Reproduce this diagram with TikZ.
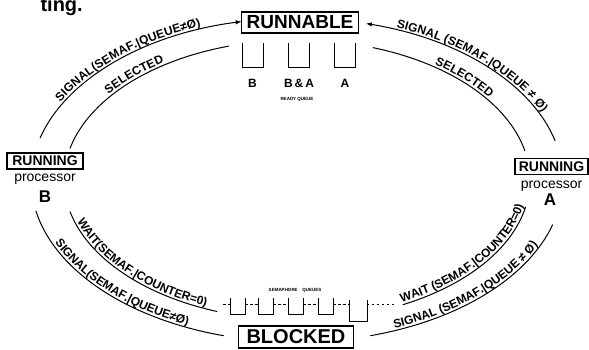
\documentclass[tikz,border=0pt]{standalone}
\usepackage{fontspec}
\setmainfont{Liberation Sans}
\usetikzlibrary{arrows.meta,decorations.text}

\newcommand{\lblfont}{\fontsize{12}{12}\selectfont\bfseries}

\begin{document}
\begin{tikzpicture}[
  x=1pt, y=1pt,
  state/.style={draw, line width=1.1pt, inner sep=1pt},
  plain/.style={inner sep=0pt},
  conn/.style={line width=1pt},
  arr/.style={conn, -{Latex[length=6pt,width=4.5pt]}},
  rarr/.style={conn, {Latex[length=6pt,width=4.5pt]}-},
  along/.style={postaction={decorate, decoration={text along path,
      text={|\lblfont|#1}, text align=center, raise=2.5pt}}}
]
\useasboundingbox (0,0) rectangle (589,350);
\coordinate (ctr) at (297,170);

\node[anchor=base west, font=\fontsize{20}{20}\selectfont\bfseries] (ting) at (37,338) {ting.};

% states
\node[state, minimum width=117pt, minimum height=21pt, font=\fontsize{19}{19}\selectfont\bfseries] (runnable) at (300,327.5) {RUNNABLE};
\node[state, minimum width=115pt, minimum height=22pt, font=\fontsize{20}{20}\selectfont\bfseries] (blocked) at (296,13) {BLOCKED};
\node[state, minimum width=76pt, minimum height=16pt, font=\fontsize{14}{14}\selectfont\bfseries] (runB) at (45,189) {RUNNING};
\node[state, minimum width=73pt, minimum height=16pt, font=\fontsize{14}{14}\selectfont\bfseries] (runA) at (551.5,183.5) {RUNNING};
\node[plain, font=\fontsize{14}{14}\selectfont] (procB) at (45,171) {processor};
\node[plain, font=\fontsize{14}{14}\selectfont] (procA) at (551.5,164) {processor};
\node[plain, font=\fontsize{17}{17}\selectfont\bfseries] (nameB) at (45,153) {B};
\node[plain, font=\fontsize{17}{17}\selectfont\bfseries] (nameA) at (550,150) {A};

% ready queue
\foreach \x/\who [count=\i] in {252.5/B, 299/B\,\&\,A, 345/A} {
  \draw[conn] (\x-10.5,307) -- (\x-10.5,282) -- (\x+10.5,282) -- (\x+10.5,307);
  \node[plain, font=\fontsize{12}{12}\selectfont\bfseries] (ready\i) at (\x,267) {\who};
}
\node[plain, font=\fontsize{4.5}{5}\selectfont\bfseries] (readyq) at (297,251) {READY QUEUE};

% semaphore queues
\foreach \x in {230, 258, 288, 318} {
  \draw[conn] (\x,52) -- (\x,35) -- (\x+15,35) -- (\x+15,52);
}
\draw[conn] (349,50) -- (349,28) -- (367,28) -- (367,50);
\foreach \a/\b in {223/230, 245/258, 273/288, 303/318, 333/349} {
  \draw[conn, dash pattern=on 3pt off 2pt] (\a,45) -- (\b,45);
}
\draw[conn, dash pattern=on 2pt off 3pt] (367,45) -- (395,45);
\node[plain, font=\fontsize{4.5}{5}\selectfont\bfseries] (semq) at (295,60) {SEMAPHORE\quad QUEUES};

% transitions, left half
\coordinate (bsig) at ([shift={(ctr)}]165:266pt and 162pt);
\coordinate (bsel) at ([shift={(ctr)}]167:233pt and 140pt);
\coordinate (bwait) at ([shift={(ctr)}]193:233pt and 140pt);
\coordinate (bwake) at ([shift={(ctr)}]191:266pt and 162pt);
\draw[arr, along={SIGNAL(SEMAF.{|}QUEUE≠Ø)}] (bsig) arc[start angle=165, end angle=102, x radius=266pt, y radius=162pt];
\draw[conn, along={SELECTED}] (bsel) arc[start angle=167, end angle=107, x radius=233pt, y radius=140pt];
\draw[conn, along={WAIT(SEMAF.{|}COUNTER=0)}] (bwait) arc[start angle=193, end angle=250, x radius=233pt, y radius=140pt];
\draw[conn, along={SIGNAL(SEMAF.{|}QUEUE≠Ø)}] (bwake) arc[start angle=191, end angle=254, x radius=266pt, y radius=162pt];

% transitions, right half
\coordinate (asig) at ([shift={(ctr)}]75:266pt and 162pt);
\coordinate (asel) at ([shift={(ctr)}]71:233pt and 140pt);
\coordinate (await) at ([shift={(ctr)}]297:233pt and 140pt);
\coordinate (awake) at ([shift={(ctr)}]286:266pt and 162pt);
\draw[rarr, along={SIGNAL (SEMAF.{|}QUEUE ≠ Ø)}] (asig) arc[start angle=75, end angle=14, x radius=266pt, y radius=162pt];
\draw[conn, along={SELECTED}] (asel) arc[start angle=71, end angle=12, x radius=233pt, y radius=140pt];
\draw[conn, along={WAIT (SEMAF.{|}COUNTER=0)}] (await) arc[start angle=297, end angle=349, x radius=233pt, y radius=140pt];
\draw[conn, along={SIGNAL (SEMAF.{|}QUEUE ≠ Ø)}] (awake) arc[start angle=286, end angle=344, x radius=266pt, y radius=162pt];
\end{tikzpicture}
\end{document}
